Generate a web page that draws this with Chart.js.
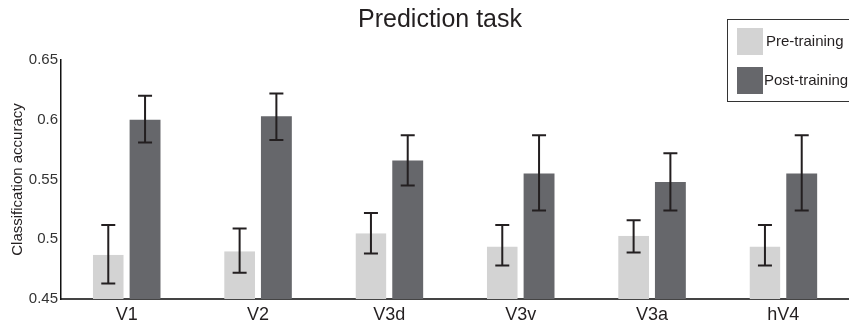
<!DOCTYPE html>
<html>
<head>
<meta charset="utf-8">
<script src="https://cdn.jsdelivr.net/npm/chart.js@4.4.1/dist/chart.umd.min.js"></script>
<style>
  html, body { margin: 0; padding: 0; background: #fff; }
  #wrap { width: 849px; height: 334px; }
</style>
</head>
<body>
<div id="wrap"><canvas id="mycanvas"></canvas></div>
<script>
var chartTitle = "Prediction task";
var areas = ["V1", "V2", "V3d", "V3v", "V3a", "hV4"];
var preVals = [0.487, 0.490, 0.505, 0.494, 0.503, 0.494];
var preLow  = [0.463, 0.472, 0.488, 0.478, 0.489, 0.478];
var preHigh = [0.512, 0.509, 0.522, 0.512, 0.516, 0.512];
var postVals = [0.600, 0.603, 0.566, 0.555, 0.548, 0.555];
var postLow  = [0.581, 0.583, 0.545, 0.524, 0.524, 0.524];
var postHigh = [0.620, 0.622, 0.587, 0.587, 0.572, 0.587];
var yTicks = [0.45, 0.5, 0.55, 0.6, 0.65];

var fontFam = "'Liberation Sans', Arial, sans-serif";
var ink = '#231f20';

// error bars, drawn from the arrays through the chart's own scales
var errorBars = {
  id: 'errorBars',
  afterDatasetsDraw: function(chart) {
    var ctx = chart.ctx;
    var y = chart.scales.y;
    var lows = [preLow, postLow];
    var highs = [preHigh, postHigh];
    ctx.save();
    ctx.strokeStyle = ink;
    ctx.lineWidth = 2;
    chart.data.datasets.forEach(function(ds, d) {
      chart.getDatasetMeta(d).data.forEach(function(bar, i) {
        var x = bar.x;
        var top = y.getPixelForValue(highs[d][i]);
        var bot = y.getPixelForValue(lows[d][i]);
        ctx.beginPath();
        ctx.moveTo(x, top); ctx.lineTo(x, bot);
        ctx.moveTo(x - 7, top); ctx.lineTo(x + 7, top);
        ctx.moveTo(x - 7, bot); ctx.lineTo(x + 7, bot);
        ctx.stroke();
      });
    });
    ctx.restore();
  }
};

// title + boxed legend sitting over the top right of the plot
var decorations = {
  id: 'decorations',
  afterDraw: function(chart) {
    var ctx = chart.ctx;
    ctx.save();
    ctx.fillStyle = ink;
    ctx.font = '25px ' + fontFam;
    ctx.textAlign = 'center';
    ctx.textBaseline = 'middle';
    ctx.fillText(chartTitle, 440, 20);

    ctx.textAlign = 'left';
    ctx.fillStyle = '#fff';
    ctx.fillRect(727, 19, 130, 82);
    ctx.strokeStyle = '#333';
    ctx.lineWidth = 1;
    ctx.strokeRect(727.5, 19.5, 130, 82);
    ctx.font = '15px ' + fontFam;
    chart.data.datasets.forEach(function(ds, d) {
      var sy = 28 + d * 39;
      ctx.fillStyle = ds.backgroundColor;
      ctx.fillRect(737, sy, 26, 27);
      ctx.fillStyle = ink;
      ctx.fillText(ds.label, d === 0 ? 766 : 764, sy + 14);
    });
    ctx.restore();
  }
};

var chartdata = {
  labels: areas,
  datasets: [
    {
      label: 'Pre-training',
      data: preVals,
      backgroundColor: '#d3d3d3',
      borderColor: '#111',
      borderWidth: { top: 0, left: 0, right: 0, bottom: 2 },
      borderSkipped: false
    },
    {
      label: 'Post-training',
      data: postVals,
      backgroundColor: '#66676b',
      borderWidth: 0
    }
  ]
};

var Graph = new Chart(document.getElementById('mycanvas'), {
  type: 'bar',
  data: chartdata,
  options: {
    responsive: true,
    maintainAspectRatio: false,
    animation: false,
    layout: { padding: { left: 0, right: 0, top: 60, bottom: 0 } },
    datasets: { bar: { categoryPercentage: 0.56, barPercentage: 0.84 } },
    plugins: {
      legend: { display: false },
      tooltip: { enabled: false },
      title: { display: false }
    },
    scales: {
      x: {
        grid: { display: false, drawTicks: false },
        border: { color: '#444', width: 2 },
        ticks: { color: ink, font: { family: fontFam, size: 18 }, padding: 5 },
        afterFit: function(s) { s.height = 35; }
      },
      y: {
        min: 0.45,
        max: 0.65,
        grid: { display: false, drawTicks: false },
        border: { color: '#111', width: 1.5 },
        afterBuildTicks: function(s) {
          s.ticks = yTicks.map(function(v) { return { value: v }; });
        },
        ticks: {
          color: '#333',
          font: { family: fontFam, size: 15 },
          padding: 3,
          callback: function(v) { return String(+v.toFixed(2)); }
        },
        title: {
          display: true,
          text: 'Classification accuracy',
          color: ink,
          font: { family: fontFam, size: 15 },
          padding: { top: 9, bottom: 4 }
        },
        afterFit: function(s) { s.width = 61; }
      }
    }
  },
  plugins: [errorBars, decorations]
});
</script>
</body>
</html>
